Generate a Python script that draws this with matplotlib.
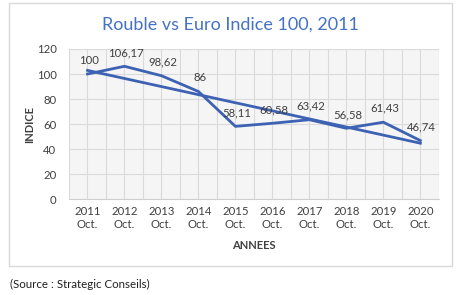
import numpy as np
import matplotlib
matplotlib.use("Agg")
import matplotlib.pyplot as plt
from matplotlib.patches import Rectangle

annees = ["2011", "2012", "2013", "2014", "2015", "2016", "2017", "2018", "2019", "2020"]
indice = [100, 106.17, 98.62, 86, 58.11, 60.58, 63.42, 56.58, 61.43, 46.74]
etiquettes = ["100", "106,17", "98,62", "86", "58,11", "60,58", "63,42", "56,58", "61,43", "46,74"]
y_ticks = [0, 20, 40, 60, 80, 100, 120]

BLEU = "#3D62B3"
TEXTE = "#404040"

plt.rcParams["font.family"] = ["Lato", "DejaVu Sans"]

fig = plt.figure(figsize=(4.6, 2.95), dpi=100)
fig.patch.set_facecolor("white")

# cadre du graphique
fig.patches.append(Rectangle((0.0196, 0.098), 0.963, 0.892, transform=fig.transFigure,
                             fill=False, edgecolor="#d9d9d9", linewidth=1.0))

ax = fig.add_axes([0.15, 0.3254, 0.804, 0.5085])
ax.set_facecolor("#f5f5f5")

x = np.arange(len(annees))
ax.plot(x, indice, color=BLEU, linewidth=2, zorder=3)

# courbe de tendance linéaire
pente, origine = np.polyfit(x, indice, 1)
ax.plot(x, pente * x + origine, color=BLEU, linewidth=2, zorder=3)

for xi, yi, txt in zip(x, indice, etiquettes):
    ax.annotate(txt, (xi, yi), xytext=(1, 6), textcoords="offset points",
                ha="center", va="bottom", fontsize=8.2, color=TEXTE)

ax.set_xlim(-0.5, len(annees) - 0.5)
ax.set_ylim(0, 120)
ax.set_yticks(y_ticks)
ax.set_xticks(x)
ax.set_xticks(np.arange(-0.5, len(annees), 1), minor=True)
ax.set_xticklabels([a + "\nOct." for a in annees], fontsize=8.2, color=TEXTE, linespacing=1.25)
ax.tick_params(axis="y", labelsize=8.2, labelcolor=TEXTE, length=0, pad=9)
ax.tick_params(axis="x", length=0, pad=5)
ax.tick_params(which="minor", length=0)

ax.grid(True, which="major", color="#dadada", linewidth=0.8)
ax.grid(True, which="minor", axis="x", color="#dadada", linewidth=0.8)
ax.set_axisbelow(True)

for s in ["top", "right", "left"]:
    ax.spines[s].set_visible(False)
ax.spines["bottom"].set_color("#cfcfcf")

ax.set_ylabel("INDICE", fontsize=8, fontweight="bold", color=TEXTE, labelpad=1)
ax.set_xlabel("ANNEES", fontsize=8, fontweight="bold", color=TEXTE, labelpad=7)

fig.text(0.501, 0.915, "Rouble vs Euro Indice 100, 2011", ha="center", va="center",
         fontsize=13, color="#4472C4")
fig.text(0.022, 0.035, "(Source : Strategic Conseils)", ha="left", va="center",
         fontsize=8.3, color="#202020")

fig.savefig("out.png", dpi=100)
